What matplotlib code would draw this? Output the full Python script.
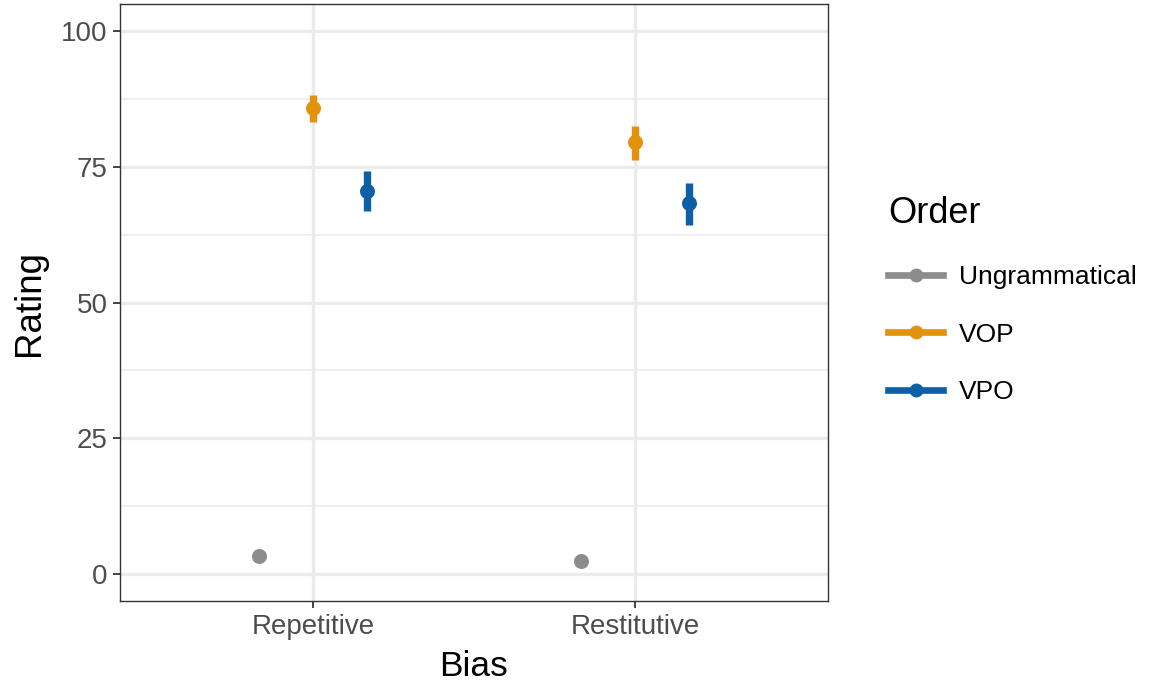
import matplotlib
matplotlib.use("Agg")
import matplotlib.pyplot as plt
from matplotlib.lines import Line2D
import numpy as np

plt.rcParams['font.family'] = ['Liberation Sans', 'DejaVu Sans']

bias = ["Repetitive", "Restitutive"]
orders = ["Ungrammatical", "VOP", "VPO"]
colors = {"Ungrammatical": "#8c8c8c", "VOP": "#E3920E", "VPO": "#0D5FA6"}
mean = {"Ungrammatical": [3.3, 2.4], "VOP": [85.8, 79.5], "VPO": [70.5, 68.3]}
lower = {"Ungrammatical": [2.6, 1.8], "VOP": [83.2, 76.2], "VPO": [66.8, 64.3]}
upper = {"Ungrammatical": [4.0, 3.0], "VOP": [88.2, 82.6], "VPO": [74.3, 72.1]}

fig = plt.figure(figsize=(11.64, 6.88), dpi=100)
ax = fig.add_axes([120/1164, 87/688, 708/1164, 597/688])

dodge = 0.5
n = len(orders)
xs = np.arange(1, len(bias) + 1)
for i, o in enumerate(orders):
    off = (i - (n - 1) / 2) * dodge / n
    x = xs + off
    m = np.array(mean[o]); lo = np.array(lower[o]); hi = np.array(upper[o])
    ax.vlines(x, lo, hi, color=colors[o], lw=5.3, zorder=3)
    ax.plot(x, m, 'o', color=colors[o], ms=10.8, zorder=4, mec='none')

ax.set_xlim(0.4, 2.6)
ax.set_ylim(-5, 105)
ax.set_xticks(xs)
ax.set_xticklabels(bias)
ax.set_yticks([0, 25, 50, 75, 100])
ax.set_yticks([12.5, 37.5, 62.5, 87.5], minor=True)
ax.grid(True, which='major', color='#EBEBEB', lw=2.4, zorder=0)
ax.grid(True, which='minor', axis='y', color='#EBEBEB', lw=1.2, zorder=0)
ax.set_axisbelow(True)
ax.tick_params(axis='both', which='major', labelsize=20, colors='#333333',
               length=5, width=1.3, labelcolor='#4d4d4d', pad=4)
ax.tick_params(axis='y', which='minor', length=0)
for s in ax.spines.values():
    s.set_color('#333333')
    s.set_linewidth(1.0)
ax.set_xlabel("Bias", fontsize=25.5, va='center')
ax.set_ylabel("Rating", fontsize=26.5, va='center')
ax.xaxis.set_label_coords(0.5, (601 - 666) / 597)
ax.yaxis.set_label_coords((29 - 120) / 708, 0.5)

handles = [Line2D([0], [0], color=colors[o], lw=4.8, marker='o', ms=10, mec='none')
           for o in orders]
leg = fig.legend(handles, orders, loc='upper left', bbox_to_anchor=(888/1164, 1 - 196/688),
                 frameon=False, title="Order", fontsize=19, title_fontsize=26,
                 handlelength=2.1, labelspacing=1.28, handletextpad=0.6, alignment='left',
                 borderaxespad=0, borderpad=0)
fig.savefig("out.png", dpi=100)
